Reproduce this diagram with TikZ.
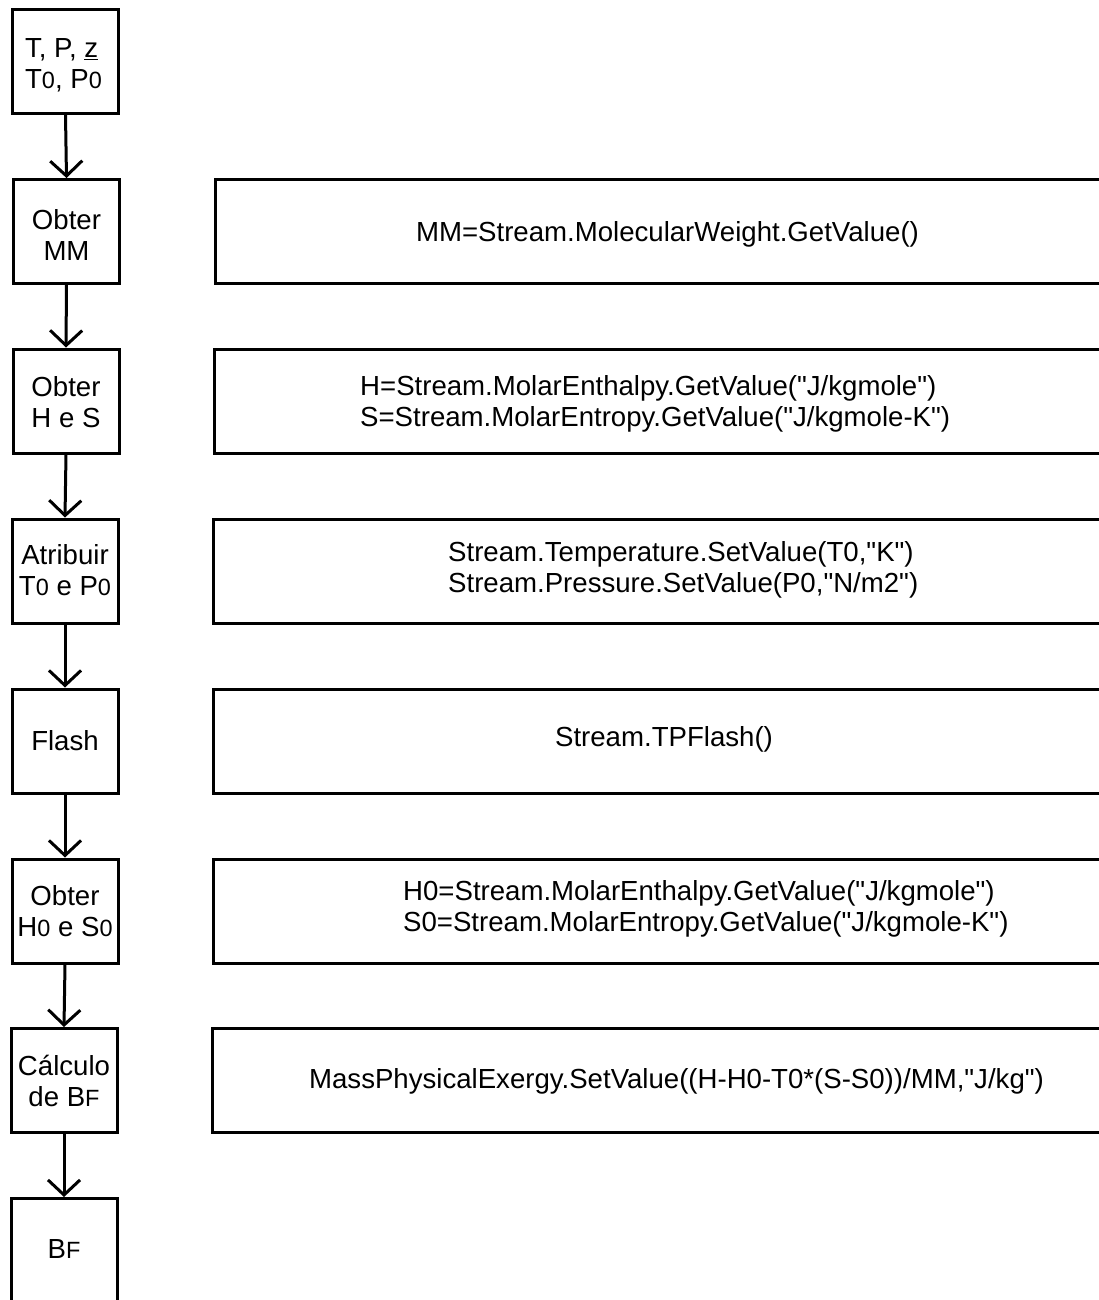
\documentclass[tikz,border=0pt]{standalone}
\usepackage{fontspec}
\setmainfont{Liberation Sans}[Ligatures=TeXOff]
\usetikzlibrary{arrows.meta}
% reduced-size index letter set on the baseline (T0, BF, ...)
\newcommand{\ix}[1]{{\fontsize{23.5}{27}\selectfont #1}}
\begin{document}
\begin{tikzpicture}[x=1pt,y=-1pt,
  every node/.style={font=\fontsize{27.6}{31}\selectfont},
  stepbox/.style={draw,line width=3pt,minimum width=106pt,minimum height=104pt,
    inner sep=0pt},
  steptext/.style={inner sep=0pt,align=center},
  codebox/.style={draw,line width=3pt,minimum width=920pt,minimum height=104pt,
    inner sep=0pt,anchor=west},
  codetext/.style={inner sep=0pt,align=left},
  flow/.style={line width=3pt,-{Straight Barb[length=15pt,width=32pt,line width=3pt]}}]
\useasboundingbox (0,0) rectangle (1099,1300);
\clip (0,0) rectangle (1099,1300);

% flow steps
\node[stepbox] (s1) at (65.5,61.5) {};
\node[stepbox] (s2) at (66.5,231.5) {};
\node[stepbox] (s3) at (66,401) {};
\node[stepbox] (s4) at (65,571) {};
\node[stepbox] (s5) at (65,741) {};
\node[stepbox] (s6) at (65,911) {};
\node[stepbox] (s7) at (64,1080.5) {};
\node[stepbox] (s8) at (64,1250.5) {};

% step captions
\node[steptext,align=left] (l1) at ([xshift=-2pt,yshift=-4pt]s1.center) {T, P, \underline{z}\\T\ix{0}, P\ix{0}};
\node[steptext] (l2) at ([yshift=-3pt]s2.center) {Obter\\MM};
\node[steptext] (l3) at ([yshift=-1pt]s3.center) {Obter\\H e S};
\node[steptext] (l4) at ([yshift=1pt]s4.center) {Atribuir\\T\ix{0} e P\ix{0}};
\node[steptext] (l5) at (s5.center) {Flash};
\node[steptext] (l6) at (s6.center) {Obter\\H\ix{0} e S\ix{0}};
\node[steptext] (l7) at (s7.center) {Cálculo\\de B\ix{F}};
\node[steptext] (l8) at ([yshift=2pt]s8.center) {B\ix{F}};

\foreach \a/\b in {s1/s2,s2/s3,s3/s4,s4/s5,s5/s6,s6/s7,s7/s8}
  \draw[flow] (\a.south) -- (\b.north);

% code boxes
\node[codebox] (c2) at (213.5,231.5) {};
\node[codebox] (c3) at (212.5,401) {};
\node[codebox] (c4) at (211.5,571) {};
\node[codebox] (c5) at (211.5,741) {};
\node[codebox] (c6) at (211.5,911) {};
\node[codebox] (c7) at (210.5,1080.5) {};

% code lines
\node[codetext] (t2) at (667.5,234) {MM=Stream.MolecularWeight.GetValue()};
\node[codetext,anchor=west] (t3) at (360,404) {H=Stream.MolarEnthalpy.GetValue("J/kgmole")\\S=Stream.MolarEntropy.GetValue("J/kgmole-K")};
\node[codetext,anchor=west] (t4) at (448,570) {Stream.Temperature.SetValue(T0,"K")\\Stream.Pressure.SetValue(P0,"N/m2")};
\node[codetext] (t5) at (664,739) {Stream.TPFlash()};
\node[codetext,anchor=west] (t6) at (403,909) {H0=Stream.MolarEnthalpy.GetValue("J/kgmole")\\S0=Stream.MolarEntropy.GetValue("J/kgmole-K")};
\node[codetext] (t7) at (676.5,1081) {MassPhysicalExergy.SetValue((H-H0-T0*(S-S0))/MM,"J/kg")};
\end{tikzpicture}
\end{document}
